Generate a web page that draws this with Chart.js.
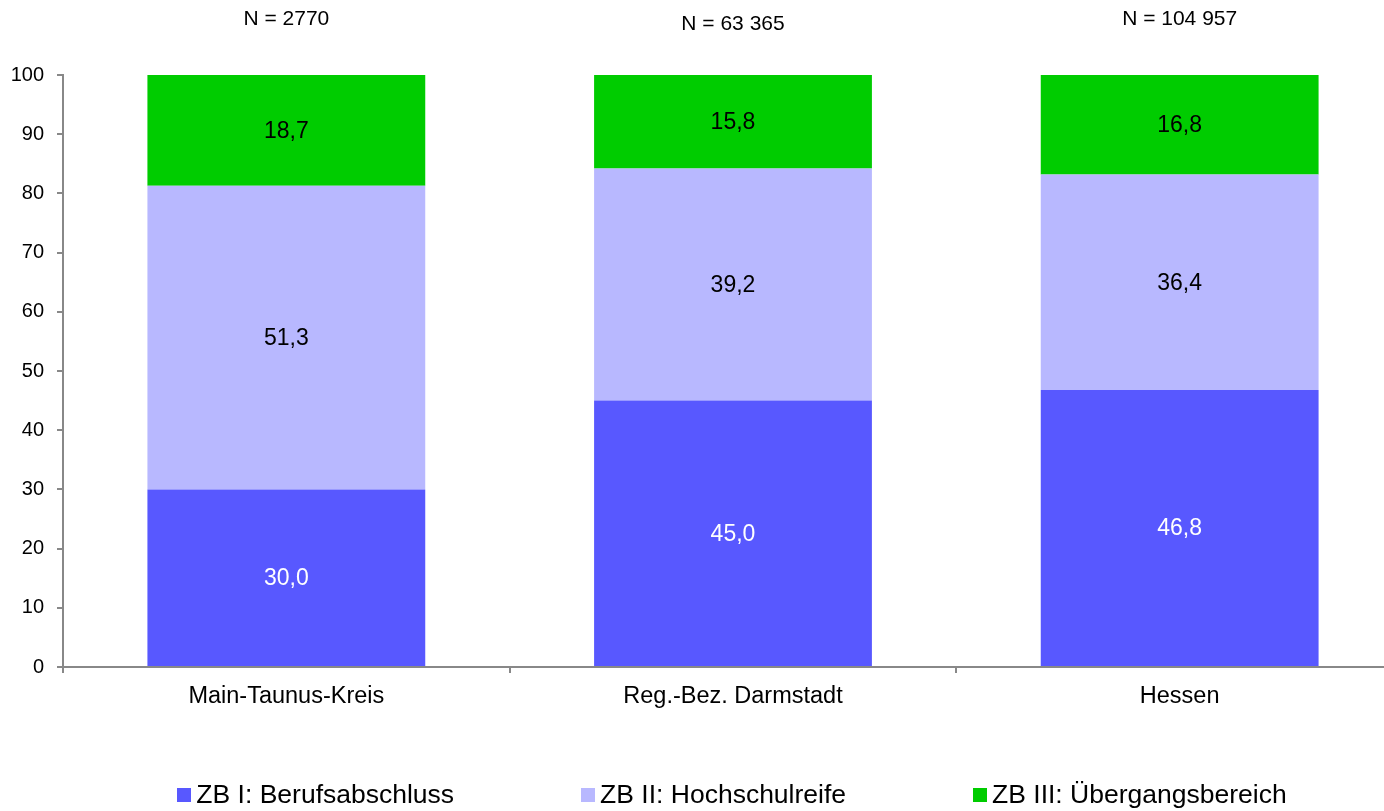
<!DOCTYPE html>
<html>
<head>
<meta charset="utf-8">
<script src="https://cdn.jsdelivr.net/npm/chart.js@4/dist/chart.umd.min.js"></script>
<style>
  html, body { margin: 0; padding: 0; background: #fff; overflow: hidden; }
  #wrap { position: relative; width: 1464px; height: 811px; }
  #legende {
    position: absolute; left: 0; top: 779px; width: 1464px;
    display: flex; justify-content: center; gap: 127px;
    font-family: Arial, "Liberation Sans", sans-serif; font-size: 26.5px; color: #000;
    line-height: 30px;
  }
  #legende span.item { display: flex; align-items: center; white-space: nowrap; }
  #legende span.box { display: inline-block; width: 14px; height: 14px; margin-right: 5px; margin-top: 2px; }
</style>
</head>
<body>
<div id="wrap">
  <canvas id="myChart"></canvas>
  <div id="legende"></div>
</div>
<script>
/* Daten */
const kategorien = ['Main-Taunus-Kreis', 'Reg.-Bez. Darmstadt', 'Hessen'];
const nLabels = ['N = 2770', 'N = 63 365', 'N = 104 957'];
const zb1 = [30.0, 45.0, 46.8];
const zb2 = [51.3, 39.2, 36.4];
const zb3 = [18.7, 15.8, 16.8];
const serienNamen = ['ZB I: Berufsabschluss', 'ZB II: Hochschulreife', 'ZB III: Übergangsbereich'];
const yTicks = [0, 10, 20, 30, 40, 50, 60, 70, 80, 90, 100];

const farben = ['#5858ff', '#b8b8ff', '#00cc00'];
const labelFarben = ['#ffffff', '#000000', '#000000'];
const schrift = 'Arial, "Liberation Sans", sans-serif';

// Werte in die Balken schreiben + N-Angaben oben
const wertePlugin = {
  id: 'werte',
  afterDatasetsDraw(chart) {
    const ctx = chart.ctx;
    ctx.save();
    ctx.textAlign = 'center';
    ctx.textBaseline = 'middle';
    ctx.font = '23px ' + schrift;
    chart.data.datasets.forEach((ds, i) => {
      const meta = chart.getDatasetMeta(i);
      meta.data.forEach((bar, j) => {
        const mitte = (bar.y + bar.base) / 2;
        ctx.fillStyle = labelFarben[i];
        ctx.fillText(ds.data[j].toFixed(1).replace('.', ','), bar.x, mitte + 1);
      });
    });
    const xs = chart.scales.x;
    ctx.fillStyle = '#000';
    ctx.font = '21px ' + schrift;
    nLabels.forEach((t, j) => {
      ctx.fillText(t, xs.getPixelForValue(j), j === 1 ? 24 : 19);
    });
    ctx.restore();
  }
};

const ctx = document.getElementById('myChart');
const myChart = new Chart(ctx, {
  type: 'bar',
  data: {
    labels: kategorien,
    datasets: [zb1, zb2, zb3].map((d, i) => ({
      label: serienNamen[i],
      data: d,
      backgroundColor: farben[i],
      borderWidth: 0,
      categoryPercentage: 1,
      barPercentage: 0.622
    }))
  },
  options: {
    responsive: true,
    maintainAspectRatio: false,
    animation: false,
    layout: { padding: { top: 75, left: 0, right: 0, bottom: 0 } },
    scales: {
      x: {
        stacked: true,
        grid: { display: true, drawOnChartArea: false, drawTicks: true, tickLength: 6, color: '#888', lineWidth: 2, offset: true },
        border: { display: true, color: '#888', width: 2 },
        ticks: { color: '#000', font: { family: schrift, size: 23.5 }, padding: 9 },
        afterFit: s => { s.height = 144; }
      },
      y: {
        stacked: true,
        min: 0,
        max: 100,
        afterBuildTicks: s => { s.ticks = yTicks.map(v => ({ value: v })); },
        grid: { display: true, drawOnChartArea: false, drawTicks: true, tickLength: 6, color: '#888', lineWidth: 2 },
        border: { display: true, color: '#888', width: 2 },
        ticks: { color: '#000', font: { family: schrift, size: 20 }, padding: 13 },
        afterFit: s => { s.width = 63; }
      },
      y2: {
        position: 'right',
        display: true,
        grid: { display: false },
        border: { display: false },
        ticks: { display: false },
        afterFit: s => { s.width = 61; }
      }
    },
    plugins: {
      legend: { display: false },
      tooltip: { enabled: false }
    }
  },
  plugins: [wertePlugin]
});

// Legende
const legende = document.getElementById('legende');
myChart.data.datasets.forEach(ds => {
  const item = document.createElement('span');
  item.className = 'item';
  const box = document.createElement('span');
  box.className = 'box';
  box.style.background = ds.backgroundColor;
  item.appendChild(box);
  item.appendChild(document.createTextNode(ds.label));
  legende.appendChild(item);
});
</script>
</body>
</html>
